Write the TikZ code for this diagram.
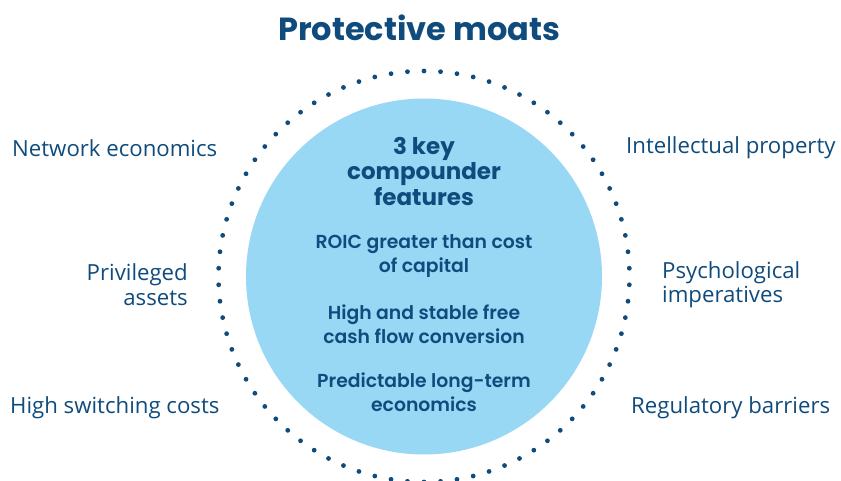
\documentclass[tikz,border=0pt]{standalone}
\usepackage{fontspec}
\setmainfont{Open Sans}
\newfontfamily\headfont{Poppins}
\newfontfamily\itemfont{Poppins}[UprightFont=* SemiBold]
\definecolor{navy}{HTML}{0F4C7D}
\definecolor{sky}{HTML}{98D8F5}
\begin{document}
\begin{tikzpicture}[x=1pt,y=-1pt,
  lbl/.style={text=navy,font=\fontsize{22.2}{24.5}\selectfont,inner sep=0pt},
  inhead/.style={text=navy,align=center,inner sep=0pt,font=\headfont\bfseries\fontsize{23}{25.5}\selectfont},
  initem/.style={text=navy,align=center,inner sep=0pt,font=\itemfont\fontsize{18.8}{24}\selectfont}]
\useasboundingbox (0,0) rectangle (841,480);
\fill[white] (0,0) rectangle (841,480);
\coordinate (c) at (424,276.5);
\fill[sky] (c) circle (178pt);
\foreach \i in {0,...,77} \fill[navy] (c) ++(90+\i*4.615385:205.5pt) circle (2.4pt);
\node[text=navy,inner sep=0pt,font=\headfont\bfseries\fontsize{32}{36}\selectfont] (title) at (419,28) {Protective moats};
\node[inhead] (head) at (424,171) {3 key\\compounder\\features};
\node[initem] (roic) at (424,256) {ROIC greater than cost\\of capital};
\node[initem] (fcf) at (424,324) {High and stable free\\cash flow conversion};
\node[initem] (pred) at (424,392) {Predictable long-term\\economics};
\node[lbl,anchor=west] (net) at (12,148) {Network economics};
\node[lbl,anchor=east,align=right] (priv) at (188,284.5) {Privileged\\assets};
\node[lbl,anchor=west] (hsc) at (10,408) {High switching costs};
\node[lbl,anchor=west] (ip) at (626,148) {Intellectual property};
\node[lbl,anchor=west,align=left] (psy) at (662,284.5) {Psychological\\imperatives};
\node[lbl,anchor=west] (reg) at (631,408) {Regulatory barriers};
\end{tikzpicture}
\end{document}
